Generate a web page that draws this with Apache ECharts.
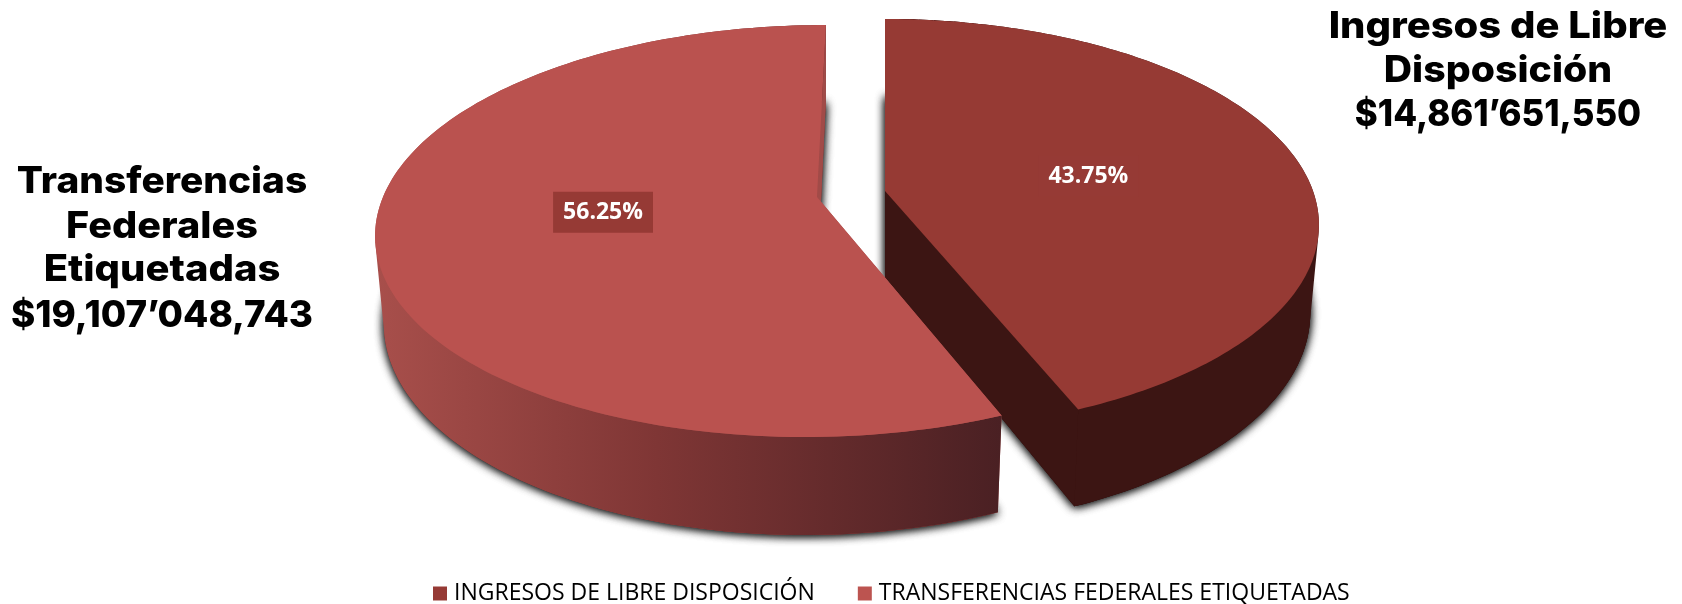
<!DOCTYPE html>
<html>
<head>
<meta charset="utf-8">
<style>
  html, body { margin: 0; padding: 0; background: #fff; }
  #main { width: 1682px; height: 604px; }
</style>
<script src="https://cdn.jsdelivr.net/npm/echarts@6/dist/echarts.min.js"></script>
</head>
<body>
<div id="main"></div>
<script>
// datos
var categories = ['INGRESOS DE LIBRE DISPOSICIÓN', 'TRANSFERENCIAS FEDERALES ETIQUETADAS'];
var values = [14861651550, 19107048743];
var calloutRight = ['Ingresos de Libre', 'Disposición', '$14,861’651,550'];
var calloutLeft = ['Transferencias', 'Federales', 'Etiquetadas', '$19,107’048,743'];

// colores
var topColors = ['#963a34', '#ba524f'];
var legendColors = ['#963a35', '#bc5450'];
var labelBox = '#963a35';
var darkWall = '#3c1513';

// geometria del pastel en perspectiva
var persp = 0.165;    // fuerza de la perspectiva
var radiusY = 200.4;
var wedges = [
    { apex: [885, 191], radiusX: 428, shear: 0, labelShift: [0, 4] },
    { apex: [817, 197], radiusX: 434, shear: -0.052, labelShift: [7, -5] }
];
var floorScaleX = 0.98, floorScaleY = 1.05, floorDrop = 86;

var total = values.reduce(function (a, b) { return a + b; }, 0);

function project(w, theta, floor) {
    var u = Math.sin(theta), v = -Math.cos(theta);
    var d = 1 - persp * v;
    var y = radiusY * v / d;
    var x = w.radiusX * u / d + w.shear * y;
    if (floor) {
        x *= floorScaleX;
        y = y * floorScaleY + floorDrop;
    }
    return [w.apex[0] + x, w.apex[1] + y];
}

function arc(w, a0, a1, floor) {
    var pts = [], n = 160;
    for (var i = 0; i <= n; i++) {
        pts.push(project(w, a0 + (a1 - a0) * i / n, floor));
    }
    return pts;
}

function apexOf(w, floor) {
    return floor ? [w.apex[0], w.apex[1] + floorDrop] : w.apex;
}

// pared como union de cuadros: todos con el mismo sentido para que no se cancelen
function wallPoints(top, floor) {
    var pts = [top[0]];
    for (var i = 0; i < top.length - 1; i++) {
        var q = [top[i], top[i + 1], floor[i + 1], floor[i]];
        var area = 0;
        for (var j = 0; j < 4; j++) {
            var p = q[j], r = q[(j + 1) % 4];
            area += p[0] * r[1] - r[0] * p[1];
        }
        if (area < 0) q.reverse();
        pts.push(q[0], q[1], q[2], q[3], q[0], top[0]);
    }
    return pts;
}

function slice(index) {
    return function (params, api) {
        var before = 0;
        for (var i = 0; i < index; i++) before += values[i];
        var a0 = before / total * Math.PI * 2;
        var a1 = (before + api.value(0)) / total * Math.PI * 2;
        var w = wedges[index];
        var top = arc(w, a0, a1, false);
        var floor = arc(w, a0, a1, true);
        var wallFill = index === 0 ? darkWall : new echarts.graphic.LinearGradient(0, 0, 1, 0, [
            { offset: 0, color: '#a84f4b' },
            { offset: 0.45, color: '#7f3635' },
            { offset: 1, color: '#4a2023' }
        ]);
        var cutFill = index === 0 ? darkWall : '#a14b48';
        var mid = (a0 + a1) / 2;
        var edge = project(w, mid, false);
        var label = (api.value(0) / total * 100).toFixed(2) + '%';
        var base = {
            type: 'polygon',
            shape: { points: [apexOf(w, true)].concat(floor) },
            style: {
                fill: cutFill,
                shadowBlur: 10,
                shadowColor: 'rgba(0,0,0,0.85)',
                shadowOffsetX: 0,
                shadowOffsetY: 1
            }
        };
        return {
            type: 'group',
            children: [
                base, // la sombra se dibuja dos veces para que quede densa
                echarts.util.clone(base),
                { // cortes radiales
                    type: 'polygon',
                    shape: { points: [w.apex, top[0], floor[0], apexOf(w, true)] },
                    style: { fill: cutFill }
                },
                { // pared exterior
                    type: 'polygon',
                    shape: { points: wallPoints(top, floor) },
                    style: { fill: wallFill }
                },
                {
                    type: 'polygon',
                    shape: { points: [w.apex, top[top.length - 1], floor[floor.length - 1], apexOf(w, true)] },
                    style: { fill: cutFill }
                },
                { // cara superior
                    type: 'polygon',
                    shape: { points: [w.apex].concat(top) },
                    style: { fill: topColors[index] }
                },
                {
                    type: 'text',
                    x: (w.apex[0] + edge[0]) / 2 + w.labelShift[0],
                    y: (w.apex[1] + edge[1]) / 2 + w.labelShift[1],
                    style: {
                        text: label,
                        fill: '#fff',
                        font: 'bold 23px "Open Sans"',
                        align: 'center',
                        verticalAlign: 'middle',
                        lineHeight: 26,
                        backgroundColor: labelBox,
                        padding: [7, 10, 8, 10]
                    }
                }
            ]
        };
    };
}

function callout(lines, cx, ys, scales) {
    return lines.map(function (t, i) {
        return {
            type: 'text',
            x: cx,
            y: ys[i],
            scaleX: scales[i],
            style: {
                text: t,
                fill: '#000',
                font: '800 37px Inter',
                align: 'center',
                verticalAlign: 'middle'
            }
        };
    });
}

var chart = echarts.init(document.getElementById('main'));
chart.setOption({
    animation: false,
    backgroundColor: '#fff',
    legend: {
        data: categories,
        left: 433,
        top: 582,
        padding: 0,
        icon: 'rect',
        itemWidth: 14,
        itemHeight: 14,
        itemGap: 43,
        textStyle: { fontFamily: 'Open Sans', fontSize: 23, color: '#000', padding: [0, 0, 0, 2] }
    },
    graphic: callout(calloutRight, 1498, [27, 71, 115], [1.08, 1.06, 0.94])
        .concat(callout(calloutLeft, 162, [182, 227, 270, 316], [1.05, 1.07, 1.08, 0.995])),
    series: categories.map(function (name, i) {
        return {
            type: 'custom',
            name: name,
            coordinateSystem: 'none',
            itemStyle: { color: legendColors[i] },
            renderItem: slice(i),
            data: [[values[i]]]
        };
    })
});
</script>
</body>
</html>
